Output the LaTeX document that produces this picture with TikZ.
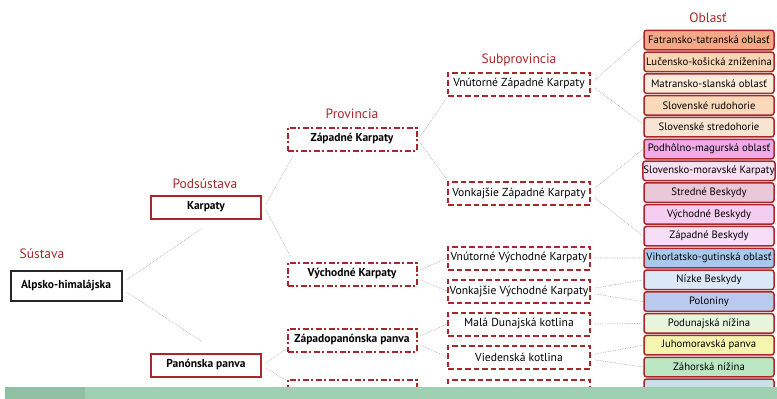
\documentclass[tikz,border=0pt]{standalone}
\usepackage{fontspec}
\setmainfont{PT Sans}
\usepackage{xcolor}
\usepackage{tikz}
\usetikzlibrary{positioning}
\definecolor{tcervena}{HTML}{A8272B}
\definecolor{pas}{HTML}{9ED0B2}
\tikzstyle{spoj} = [black!30, densely dotted, line width=0.7pt]
\tikzstyle{nadpis} = [text=tcervena, font=\fontsize{13.5}{15}\selectfont]
\tikzstyle{sustava} = [draw=black!85, line width=2pt, fill=white, minimum width=111pt, minimum height=30pt, inner xsep=1pt, font=\bfseries\fontsize{11.5}{13}\selectfont]
\tikzstyle{podsustava} = [draw=tcervena, line width=2pt, fill=white, minimum width=110pt, minimum height=23pt, inner xsep=1pt, font=\bfseries\fontsize{11.5}{13}\selectfont]
\tikzstyle{provincia} = [draw=tcervena, line width=2pt, fill=white, dash pattern=on 6pt off 2.5pt on 2pt off 2.5pt, minimum width=129pt, minimum height=23pt, inner xsep=1pt, font=\bfseries\fontsize{11.5}{13}\selectfont]
\tikzstyle{subprovincia} = [draw=tcervena, line width=2pt, fill=white, dash pattern=on 5.5pt off 3pt, minimum width=142pt, minimum height=23pt, inner xsep=0.5pt, font=\fontsize{11.6}{13}\selectfont]
\tikzstyle{oblast} = [draw=tcervena, line width=1.5pt, rounded corners=2.5pt, minimum width=130pt, minimum height=19.5pt, inner xsep=0.5pt, inner ysep=1pt, font=\fontsize{10.7}{12}\selectfont]
\begin{document}
\begin{tikzpicture}[x=1pt, y=-1pt, node distance=21.8pt]
	\useasboundingbox (0,0) rectangle (777,399);
	
	% nadpisy urovni
	\node[nadpis] (t1) at (42,254) {Sústava};
	\node[nadpis] (t2) at (205,184) {Podsústava};
	\node[nadpis] (t3) at (352,114) {Provincia};
	\node[nadpis] (t4) at (519,60) {Subprovincia};
	\node[nadpis] (t5) at (708,18) {Oblasť};
	
	\node[sustava] (alp) at (66,286) {Alpsko-himalájska};
	
	\node[podsustava] (karp) at (206,207) {Karpaty};
	\node[podsustava] (pan) at (206,365) {Panónska panva};
	
	\node[provincia] (zk) at (352,139) {Západné Karpaty};
	\node[provincia] (vk) at (352,274) {Východné Karpaty};
	\node[provincia] (zpp) at (352,340) {Západopanónska panva};
	\node[provincia] (p4) at (352,391) {};
	
	\node[subprovincia] (vzk) at (519,84) {Vnútorné Západné Karpaty};
	\node[subprovincia] (onzk) at (519,193) {Vonkajšie Západné Karpaty};
	\node[subprovincia] (vvk) at (519,258) {Vnútorné Východné Karpaty};
	\node[subprovincia] (onvk) at (519,291) {Vonkajšie Východné Karpaty};
	\node[subprovincia] (mdk) at (519,324) {Malá Dunajská kotlina};
	\node[subprovincia] (vied) at (519,357) {Viedenská kotlina};
	\node[subprovincia] (s7) at (519,391) {};
	
	\node[oblast, fill={rgb,255:red,245;green,168;blue,135}] (o1) at (709,40) {Fatransko-tatranská oblasť};
	\node[oblast, fill={rgb,255:red,250;green,214;blue,182}, below of=o1] (o2) {Lučensko-košická zníženina};
	\node[oblast, fill={rgb,255:red,253;green,236;blue,219}, below of=o2] (o3) {Matransko-slanská oblasť};
	\node[oblast, fill={rgb,255:red,250;green,217;blue,186}, below of=o3] (o4) {Slovenské rudohorie};
	\node[oblast, fill={rgb,255:red,248;green,228;blue,210}, below of=o4] (o5) {Slovenské stredohorie};
	\node[oblast, fill={rgb,255:red,240;green,170;blue,232}, below of=o5] (o6) {Podhôlno-magurská oblasť};
	\node[oblast, fill={rgb,255:red,249;green,222;blue,242}, below of=o6] (o7) {Slovensko-moravské Karpaty};
	\node[oblast, fill={rgb,255:red,234;green,200;blue,218}, below of=o7] (o8) {Stredné Beskydy};
	\node[oblast, fill={rgb,255:red,246;green,205;blue,242}, below of=o8] (o9) {Východné Beskydy};
	\node[oblast, fill={rgb,255:red,246;green,222;blue,246}, below of=o9] (o10) {Západné Beskydy};
	\node[oblast, fill={rgb,255:red,170;green,200;blue,236}, below of=o10] (o11) {Vihorlatsko-gutinská oblasť};
	\node[oblast, fill={rgb,255:red,218;green,232;blue,248}, below of=o11] (o12) {Nízke Beskydy};
	\node[oblast, fill={rgb,255:red,186;green,202;blue,238}, below of=o12] (o13) {Poloniny};
	\node[oblast, fill={rgb,255:red,230;green,245;blue,220}, below of=o13] (o14) {Podunajská nížina};
	\node[oblast, fill={rgb,255:red,246;green,245;blue,176}, below of=o14] (o15) {Juhomoravská panva};
	\node[oblast, fill={rgb,255:red,186;green,230;blue,194}, below of=o15] (o16) {Záhorská nížina};
	\node[oblast, fill={rgb,255:red,200;green,225;blue,230}, below of=o16] (o17) {};
	
	% spojnice
	\draw[spoj] ([xshift=4pt,yshift=6pt]alp.east) -- ([xshift=-4pt,yshift=-9pt]karp.south);
	\draw[spoj] ([xshift=4pt,yshift=-6pt]alp.east) -- ([xshift=-4pt,yshift=11pt]pan.north);
	\draw[spoj] ([xshift=4pt,yshift=3pt]karp.east) -- ([xshift=7pt,yshift=-4pt]zk.south west);
	\draw[spoj] ([xshift=4pt,yshift=-3pt]karp.east) -- ([xshift=4pt,yshift=5pt]vk.north west);
	\draw[spoj] ([xshift=4pt,yshift=2pt]pan.east) -- ([yshift=4pt]zpp.south west);
	\draw[spoj] ([xshift=4pt,yshift=-3pt]pan.east) -- ([yshift=-2pt]p4.north west);
	\draw[spoj] ([xshift=3pt,yshift=3pt]zk.east) -- ([yshift=-1pt]vzk.south west);
	\draw[spoj] ([xshift=3pt,yshift=-4pt]zk.east) -- ([yshift=1pt]onzk.north west);
	\draw[spoj] ([xshift=3pt,yshift=4pt]vk.east) -- (vvk.west);
	\draw[spoj] ([xshift=3pt,yshift=-6pt]vk.east) -- (onvk.west);
	\draw[spoj] ([xshift=3pt,yshift=4pt]zpp.east) -- (mdk.west);
	\draw[spoj] ([xshift=3pt,yshift=-5pt]zpp.east) -- (vied.west);
	\draw[spoj] ([xshift=4pt,yshift=4pt]vzk.east) -- ([yshift=3pt]o1.west);
	\draw[spoj] ([xshift=4pt,yshift=-4pt]vzk.east) -- ([yshift=3pt]o5.west);
	\draw[spoj] ([xshift=4pt,yshift=5pt]onzk.east) -- (o6.west);
	\draw[spoj] ([xshift=4pt,yshift=-5pt]onzk.east) -- (o10.west);
	\draw[spoj] ([xshift=4pt]vvk.east) -- (o11.west);
	\draw[spoj] ([xshift=4pt,yshift=3pt]onvk.east) -- (o12.west);
	\draw[spoj] ([xshift=4pt,yshift=-3pt]onvk.east) -- (o13.west);
	\draw[spoj] ([xshift=4pt]mdk.east) -- (o14.west);
	\draw[spoj] ([xshift=4pt,yshift=3pt]vied.east) -- (o15.west);
	\draw[spoj] ([xshift=4pt,yshift=-3pt]vied.east) -- (o16.west);
	
	% zeleny pas dole
	\fill[pas] (5,387) rectangle (777,399);
	\fill[black!8!pas] (5,387) rectangle (85,399);
\end{tikzpicture}
\end{document}
